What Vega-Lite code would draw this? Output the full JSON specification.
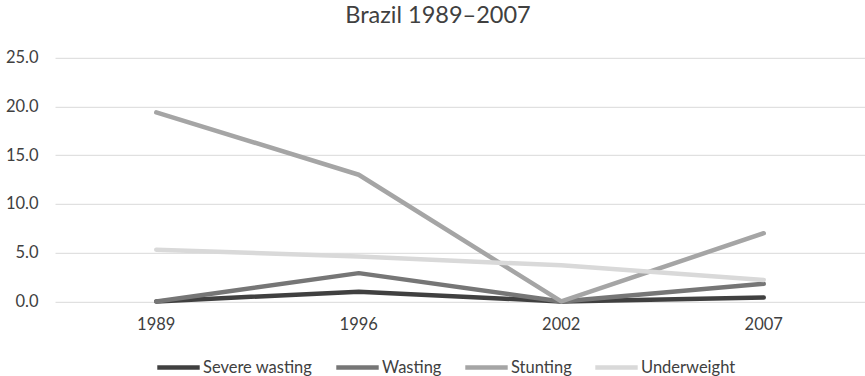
{
  "$schema": "https://vega.github.io/schema/vega-lite/v6.json",
  "autosize": "none",
  "width": 810,
  "height": 243.6,
  "padding": {"left": 55, "top": 57.8, "right": 0, "bottom": 74.6},
  "background": "white",
  "title": {
    "text": "Brazil 1989–2007",
    "font": "Lato",
    "fontSize": 23.5,
    "fontWeight": "normal",
    "color": "#404040",
    "anchor": "middle",
    "frame": "group",
    "dx": -22,
    "offset": 22
  },
  "config": {
    "view": {"stroke": null},
    "font": "Lato",
    "axis": {
      "labelFont": "Lato",
      "labelFontSize": 16.5,
      "labelColor": "#404040",
      "domain": false,
      "ticks": false,
      "title": null
    },
    "legend": {
      "labelFont": "Lato",
      "labelFontSize": 16.5,
      "labelColor": "#404040"
    }
  },
  "data": {
    "values": [
      {"year": "1989", "indicator": "Severe wasting", "value": 0.0},
      {"year": "1996", "indicator": "Severe wasting", "value": 1.0},
      {"year": "2002", "indicator": "Severe wasting", "value": 0.0},
      {"year": "2007", "indicator": "Severe wasting", "value": 0.4},
      {"year": "1989", "indicator": "Wasting", "value": 0.0},
      {"year": "1996", "indicator": "Wasting", "value": 2.9},
      {"year": "2002", "indicator": "Wasting", "value": 0.0},
      {"year": "2007", "indicator": "Wasting", "value": 1.8},
      {"year": "1989", "indicator": "Stunting", "value": 19.4},
      {"year": "1996", "indicator": "Stunting", "value": 13.0},
      {"year": "2002", "indicator": "Stunting", "value": 0.0},
      {"year": "2007", "indicator": "Stunting", "value": 7.0},
      {"year": "1989", "indicator": "Underweight", "value": 5.3},
      {"year": "1996", "indicator": "Underweight", "value": 4.6},
      {"year": "2002", "indicator": "Underweight", "value": 3.7},
      {"year": "2007", "indicator": "Underweight", "value": 2.2}
    ]
  },
  "mark": {"type": "line", "strokeWidth": 4.5, "strokeCap": "round", "strokeJoin": "round"},
  "encoding": {
    "x": {
      "field": "year",
      "type": "ordinal",
      "scale": {"type": "band", "paddingInner": 0, "paddingOuter": 0},
      "axis": {"labelAngle": 0, "labelPadding": 15, "grid": false}
    },
    "y": {
      "field": "value",
      "type": "quantitative",
      "scale": {"domain": [0, 25], "nice": false},
      "axis": {
        "values": [0, 5, 10, 15, 20, 25],
        "format": ".1f",
        "labelPadding": 17,
        "grid": true,
        "gridColor": "#d9d9d9",
        "gridWidth": 1
      }
    },
    "color": {
      "field": "indicator",
      "type": "nominal",
      "sort": ["Severe wasting", "Wasting", "Stunting", "Underweight"],
      "scale": {
        "domain": ["Severe wasting", "Wasting", "Stunting", "Underweight"],
        "range": ["#404040", "#767676", "#a5a5a5", "#d9d9d9"]
      },
      "legend": {
        "title": null,
        "orient": "none",
        "direction": "horizontal",
        "legendX": 100,
        "legendY": 286,
        "symbolType": "stroke",
        "symbolSize": 1800,
        "symbolStrokeWidth": 4.5,
        "labelOffset": 1,
        "columnPadding": 14
      }
    }
  }
}
